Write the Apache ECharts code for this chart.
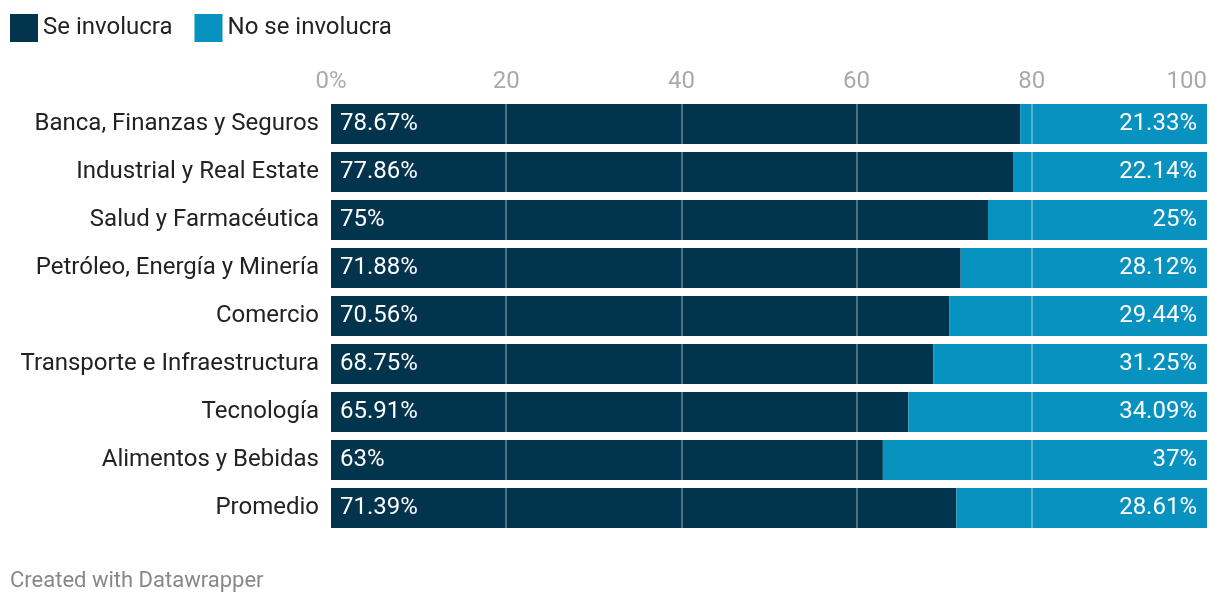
<!DOCTYPE html>
<html><head><meta charset="utf-8">
<script src="https://cdn.jsdelivr.net/npm/echarts@6/dist/echarts.min.js"></script>
<style>html,body{margin:0;padding:0;background:#fff}#c{width:1220px;height:606px}</style>
</head><body><div id="c"></div>
<script>
const categories = ["Banca, Finanzas y Seguros","Industrial y Real Estate","Salud y Farmacéutica","Petróleo, Energía y Minería","Comercio","Transporte e Infraestructura","Tecnología","Alimentos y Bebidas","Promedio"];
const seInvolucra = [78.67,77.86,75,71.88,70.56,68.75,65.91,63,71.39];
const noSeInvolucra = [21.33,22.14,25,28.12,29.44,31.25,34.09,37,28.61];
const gridTicks = [20,40,60,80];
const seriesNames = ["Se involucra","No se involucra"];

const chart = echarts.init(document.getElementById('c'));
const font = 'Roboto';
chart.setOption({
  animation:false,
  textStyle:{fontFamily:font},
  legend:{left:10,top:14,padding:0,icon:'rect',itemWidth:28,itemHeight:28,itemGap:22,
    textStyle:{fontSize:24,color:'#222',fontFamily:font,padding:[2,0,0,0]},
    data:seriesNames},
  graphic:[{type:'text',left:10,top:570,style:{text:'Created with Datawrapper',fill:'#888',fontSize:22,fontFamily:font}}],
  grid:{left:331,right:13,top:100,bottom:74},
  xAxis:{type:'value',position:'top',min:0,max:100,interval:20,
    axisLine:{show:false},axisTick:{show:false},splitLine:{show:false},
    axisLabel:{fontSize:24,color:'#aaa',margin:6,alignMaxLabel:'right',
      formatter:v=>v===0?'0%':String(v)}},
  yAxis:{type:'category',data:categories,inverse:true,
    axisLine:{show:false},axisTick:{show:false},
    axisLabel:{fontSize:24,color:'#222',margin:12,padding:[4,0,0,0]}},
  series:[
    {name:seriesNames[0],type:'bar',stack:'a',data:seInvolucra,barCategoryGap:'17%',
     itemStyle:{color:'#03344e'},
     label:{show:true,position:'insideLeft',distance:9,color:'#fff',fontSize:24,padding:[4,0,0,0],formatter:p=>p.value+'%'}},
    {name:seriesNames[1],type:'bar',stack:'a',data:noSeInvolucra,
     itemStyle:{color:'#0892bf'},
     label:{show:true,position:'insideRight',distance:10,color:'#fff',fontSize:24,padding:[4,0,0,0],formatter:p=>p.value+'%'},
     markLine:{silent:true,symbol:'none',label:{show:false},z:10,
       lineStyle:{color:'rgba(255,255,255,0.4)',width:1.5,type:'solid'},
       data:gridTicks.map(v=>({xAxis:v}))}}
  ]
});
</script></body></html>
